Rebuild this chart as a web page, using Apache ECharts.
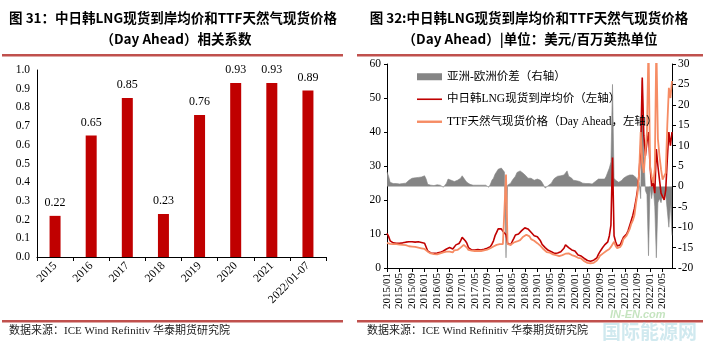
<!DOCTYPE html>
<html><head><meta charset="utf-8">
<script src="https://cdn.jsdelivr.net/npm/echarts@6/dist/echarts.min.js"></script>
<style>html,body{margin:0;padding:0;background:#fff}#c{width:705px;height:347px}</style>
</head><body><div id="c"></div>
<script>
// ---------- Left chart data ----------
const barCats = ['2015','2016','2017','2018','2019','2020','2021','2022/01-07'];
const corrValues = [0.22,0.65,0.85,0.23,0.76,0.93,0.93,0.89];

// ---------- Right chart data (half-month samples, 2015/01 .. 2022/08) ----------
const halfMonthDates = [];
for (let y = 2015; y <= 2022; y++) {
  for (let m = 1; m <= 12; m++) {
    for (const d of ['01', '16']) {
      if (halfMonthDates.length < 183) halfMonthDates.push(y + '/' + String(m).padStart(2, '0') + '/' + d);
    }
  }
}
const jkmPrice = [
  10.2,9.3, 8.0,7.6, 7.4,7.3, 7.3,7.2, 7.3,7.4, 7.4,7.5, 7.6,7.7, 7.7,7.7, 7.7,7.6, 7.6,7.7, 7.7,7.6, 7.5,7.3,
  7.3,7.0, 5.0,4.6, 4.4,4.3, 4.3,4.3, 4.4,4.5, 4.6,4.8, 5.0,5.3, 5.6,6.0, 6.0,5.6, 5.6,5.8, 6.8,6.8, 7.2,8.0,
  9.0,9.2, 8.0,7.3, 6.0,5.5, 5.3,5.3, 5.3,5.3, 5.4,5.3, 5.3,5.4, 5.5,5.6, 5.8,6.0, 6.3,7.0, 8.0,9.5, 10.5,11.5,
  11.7,11.5, 10.8,10.3, 9.8,7.3, 6.9,6.8, 7.8,8.7, 9.7,10.2, 10.0,10.5, 11.0,11.5, 11.8,11.9, 11.5,11.0, 10.5,10.0, 9.5,9.2,
  9.2,8.8, 8.0,7.0, 6.5,6.0, 5.5,5.2, 5.0,4.8, 4.5,4.3, 4.3,4.4, 4.5,4.8, 5.0,5.8, 6.8,6.8, 6.0,5.5, 5.3,5.3,
  5.0,4.5, 3.8,3.5, 3.5,3.2, 2.8,2.4, 2.2,2.0, 2.0,2.0, 2.3,2.6, 3.0,4.0, 4.8,5.5, 6.2,6.8, 7.3,7.7, 9.5,12.6,
  32.5,9.5, 7.7,6.5, 6.3,6.8, 8.0,9.0, 9.5,10.0, 11.0,12.5, 14.0,15.5, 17.5,20.0, 23.0,28.0, 35.0,56.0, 39.0,33.0, 37.0,40.0,
  30.0,24.0, 25.0,22.0, 35.0,30.0, 26.0,22.0, 21.0,20.0, 23.0,32.0, 40.0,36.0, 40.0
];
const ttfPrice = [
  7.4,7.2, 7.1,7.0, 7.0,7.0, 7.0,6.9, 6.9,6.9, 6.8,6.8, 6.7,6.5, 6.4,6.3, 6.3,6.3, 6.2,6.2, 6.0,5.9, 5.8,5.6,
  5.6,5.2, 4.8,4.5, 4.3,4.2, 4.1,4.0, 4.0,4.1, 4.3,4.5, 4.6,4.8, 4.8,4.7, 4.8,4.3, 4.6,5.2, 5.3,5.3, 5.6,6.0,
  6.5,6.8, 6.8,6.0, 5.3,5.2, 5.1,5.0, 5.0,5.0, 5.0,5.0, 5.0,5.1, 5.2,5.3, 5.4,5.6, 5.8,6.0, 6.3,6.5, 6.8,7.0,
  7.0,7.2, 7.0,7.3, 27.5,7.0, 6.8,6.8, 7.2,7.5, 7.6,7.8, 7.9,8.2, 8.6,9.2, 9.7,9.8, 9.8,9.3, 8.5,8.2, 8.0,7.8,
  7.3,7.0, 6.5,6.0, 5.5,5.0, 4.7,4.6, 4.5,4.3, 4.0,3.8, 3.8,3.6, 3.5,3.6, 3.8,4.0, 4.2,4.4, 4.3,4.0, 3.8,3.5,
  3.5,3.3, 3.0,2.8, 2.8,2.6, 2.0,1.8, 1.5,1.4, 1.4,1.6, 1.5,1.7, 2.2,2.8, 3.6,3.9, 4.3,4.8, 5.0,5.3, 5.6,6.2,
  6.5,7.7, 6.5,5.8, 6.0,6.2, 7.0,8.5, 9.0,9.5, 10.5,11.5, 13.0,14.0, 15.5,19.0, 22.0,28.0, 40.0,31.0, 28.0,34.0, 40.0,66.0,
  30.0,27.0, 25.0,29.0, 66.0,38.0, 33.0,29.0, 26.0,27.0, 28.0,42.0, 53.0,50.0, 55.0
];
const spreadValue = [
  3.6,2.5, 1.0,0.8, 0.7,0.7, 0.7,0.6, 0.6,0.6, 0.7,0.7, 0.8,1.0, 1.5,1.8, 2.0,2.0, 2.1,2.2, 2.2,2.3, 2.3,2.4,
  2.6,1.8, 0.5,0.3, 0.3,0.3, 0.2,0.3, 0.4,0.4, 0.3,0.2, -0.2,-0.3, 0.8,1.8, 2.1,1.5, 1.2,1.2, 1.3,1.5, 1.6,2.0,
  2.6,2.8, 1.5,1.0, 0.8,0.5, 0.4,0.3, 0.3,0.3, 0.3,0.3, 0.3,0.3, 0.3,0.3, 0.2,-0.2, 0.5,1.5, 2.0,3.0, 3.6,4.2,
  4.6,4.5, 4.3,3.5, -17.5,0.3, 0.5,0.8, 1.5,1.6, 2.5,3.4, 3.5,3.8, 3.5,3.2, 2.8,2.5, 2.0,1.8, 2.0,1.8, 1.5,1.4,
  1.8,1.8, 1.5,1.0, 0.8,-0.4, -0.5,0.2, 0.5,0.8, 1.5,2.0, 2.2,2.5, 2.4,2.6, 2.5,2.8, 3.2,3.8, 2.5,2.2, 2.0,1.5,
  1.5,1.4, 1.3,1.2, 1.0,0.8, 0.8,0.7, 0.7,0.7, 0.6,0.6, 0.8,1.2, 1.5,1.8, 2.0,1.8, 1.6,1.8, 2.5,3.5, 4.5,6.0,
  25.0,2.0, 1.5,1.2, 1.0,1.2, 1.5,2.0, 2.2,2.5, 2.5,2.8, 3.0,2.8, 2.5,2.2, 1.5,1.0, -3.0,26.0, 8.0,-1.0, -2.0,-17.0,
  0.0,-3.0, 0.0,-5.0, -17.5,-4.0, -3.0,-4.0, -2.0,-3.0, -2.0,-6.0, -10.0,-4.0, -12.0
];
const spreadName = '亚洲-欧洲价差（右轴）';
const jkmName = '中日韩LNG现货到岸均价（左轴）';
const ttfName = 'TTF天然气现货价格（Day Ahead，左轴）';

const serif = '"Liberation Serif","Noto Sans CJK SC",serif';
const hei = '"Noto Sans CJK SC",sans-serif';
const ruleColor = '#C0504D';

const chart = echarts.init(document.getElementById('c'), null, {renderer: 'canvas'});
const axisBlack = {show: true, lineStyle: {color: '#000', width: 1}};
chart.setOption({
  animation: false,
  backgroundColor: '#fff',
  grid: [
    {left: 37, top: 70, width: 289, height: 187},
    {left: 387, top: 64, width: 285, height: 204}
  ],
  legend: {
    left: 412, top: 66, orient: 'vertical', itemWidth: 25, itemHeight: 7, itemGap: 11,
    selectedMode: false, symbolKeepAspect: true,
    textStyle: {fontFamily: serif, fontSize: 11.5, color: '#000'},
    data: [
      {name: spreadName, icon: 'rect'},
      {name: jkmName, icon: 'path://M0,0h25v1.6h-25z'},
      {name: ttfName, icon: 'path://M0,0h25v2.4h-25z'}
    ]
  },
  xAxis: [
    {gridIndex: 0, type: 'category', data: barCats, axisLine: axisBlack,
     axisTick: {show: true, length: 4, lineStyle: {color: '#000'}},
     axisLabel: {interval: 0, rotate: 45, color: '#000', fontFamily: serif, fontSize: 11.5, margin: 7}},
    {gridIndex: 1, type: 'category', data: halfMonthDates, boundaryGap: false, axisLine: axisBlack,
     axisTick: {show: true, interval: 7, length: 4, lineStyle: {color: '#000'}},
     axisLabel: {interval: 7, rotate: 90, color: '#000', fontFamily: serif, fontSize: 11, margin: 5,
                 formatter: v => v.slice(0, 7)}}
  ],
  yAxis: [
    {gridIndex: 0, type: 'value', min: 0, max: 1, interval: 0.1, axisLine: axisBlack,
     axisTick: {show: false}, splitLine: {show: false},
     axisLabel: {color: '#000', fontFamily: serif, fontSize: 11.5, margin: 7, formatter: v => v.toFixed(1)}},
    {gridIndex: 1, type: 'value', position: 'left', min: 0, max: 60, interval: 10, axisLine: axisBlack,
     axisTick: {show: true, length: 3, lineStyle: {color: '#000'}}, splitLine: {show: false},
     axisLabel: {color: '#000', fontFamily: serif, fontSize: 11.5, margin: 6}},
    {gridIndex: 1, type: 'value', position: 'right', min: -20, max: 30, interval: 5, axisLine: axisBlack,
     axisTick: {show: true, length: 4, lineStyle: {color: '#000'}}, splitLine: {show: false},
     axisLabel: {color: '#000', fontFamily: serif, fontSize: 11.5, margin: 6}}
  ],
  series: [
    {type: 'bar', xAxisIndex: 0, yAxisIndex: 0, data: corrValues, barWidth: 11,
     itemStyle: {color: '#C00000'},
     label: {show: true, position: 'top', distance: 7, color: '#000', fontFamily: serif, fontSize: 12,
             formatter: p => p.value.toFixed(2)}},
    {name: spreadName, type: 'line', xAxisIndex: 1, yAxisIndex: 2, data: spreadValue, symbol: 'none',
     itemStyle: {color: '#858585'},
     lineStyle: {width: 0.6, color: '#858585'}, areaStyle: {color: '#858585', opacity: 1}},
    {name: jkmName, type: 'line', xAxisIndex: 1, yAxisIndex: 1, data: jkmPrice, symbol: 'none',
     itemStyle: {color: '#C00000'}, lineStyle: {width: 1.6, color: '#C00000'}},
    {name: ttfName, type: 'line', xAxisIndex: 1, yAxisIndex: 1, data: ttfPrice, symbol: 'none',
     itemStyle: {color: '#F68C64'}, lineStyle: {width: 1.8, color: '#F68C64'}}
  ],
  graphic: [
    {type: 'text', x: 173, y: 18, style: {text: '图 31：中日韩LNG现货到岸均价和TTF天然气现货价格', font: 'bold 13.5px ' + hei, fill: '#000', align: 'center', verticalAlign: 'middle'}},
    {type: 'text', x: 176, y: 39, style: {text: '（Day Ahead）相关系数', font: 'bold 13.5px ' + hei, fill: '#000', align: 'center', verticalAlign: 'middle'}},
    {type: 'text', x: 529, y: 18, style: {text: '图 32:中日韩LNG现货到岸均价和TTF天然气现货价格', font: 'bold 13.5px ' + hei, fill: '#000', align: 'center', verticalAlign: 'middle'}},
    {type: 'text', x: 530, y: 39, style: {text: '（Day Ahead）|单位：美元/百万英热单位', font: 'bold 13.5px ' + hei, fill: '#000', align: 'center', verticalAlign: 'middle'}},
    {type: 'rect', shape: {x: 2, y: 54, width: 341, height: 2.5}, style: {fill: ruleColor}},
    {type: 'rect', shape: {x: 357, y: 54, width: 346, height: 2.5}, style: {fill: ruleColor}},
    {type: 'rect', shape: {x: 2, y: 320, width: 341, height: 2.5}, style: {fill: ruleColor}},
    {type: 'rect', shape: {x: 357, y: 320, width: 346, height: 2.5}, style: {fill: ruleColor}},
    {type: 'text', x: 9, y: 331, style: {text: '数据来源：ICE Wind Refinitiv 华泰期货研究院', font: '11px ' + serif, fill: '#222', verticalAlign: 'middle'}},
    {type: 'text', x: 367, y: 331, style: {text: '数据来源：ICE Wind Refinitiv 华泰期货研究院', font: '11px ' + serif, fill: '#222', verticalAlign: 'middle'}},
    {type: 'text', x: 610, y: 315, style: {text: 'IN-EN.com', font: 'italic bold 11px "Liberation Sans",sans-serif', fill: 'rgba(150,205,140,0.55)', verticalAlign: 'middle'}},
    {type: 'text', x: 602, y: 332, style: {text: '国际能源网', font: 'bold 19px ' + hei, fill: 'rgba(170,215,225,0.55)', verticalAlign: 'middle'}}
  ]
});
</script></body></html>
